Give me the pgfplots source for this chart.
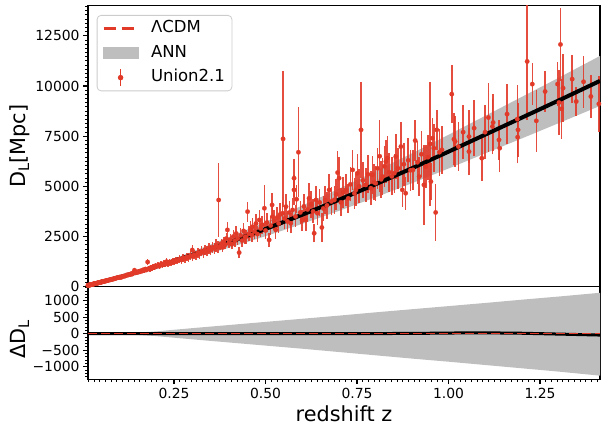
\documentclass[border=0pt]{standalone}
\usepackage{pgfplots}
\pgfplotsset{compat=1.18}
\usepackage{pgfplotstable}
\usepgfplotslibrary{fillbetween}
\usepackage{fontspec}
\setmainfont{DejaVu Sans}
\definecolor{ured}{RGB}{226,58,41}
\definecolor{bandgray}{RGB}{190,190,190}

\pgfplotstableread{
z D e
0.0150 68 6
0.0152 63 6
0.0155 70 7
0.0160 71 6
0.0163 67 7
0.0170 76 7
0.0175 74 8
0.0180 81 7
0.0185 78 8
0.0190 86 8
0.0196 84 8
0.0200 92 9
0.0210 90 8
0.0215 98 9
0.0220 95 9
0.0230 104 10
0.0235 99 11
0.0240 109 11
0.0250 113 11
0.0255 107 12
0.0260 118 11
0.0270 121 12
0.0280 127 12
0.0285 120 13
0.0290 131 12
0.0300 136 13
0.0310 137 13
0.0320 146 14
0.0330 143 14
0.0340 156 16
0.0350 152 16
0.0360 164 16
0.0370 170 17
0.0380 168 17
0.0390 179 18
0.0400 182 18
0.0410 176 18
0.0420 191 19
0.0430 195 19
0.0440 188 19
0.0450 207 21
0.0460 210 21
0.0470 202 22
0.0480 221 22
0.0490 218 22
0.0500 229 23
0.0510 226 23
0.0520 242 24
0.0530 237 24
0.0540 251 25
0.0550 246 25
0.0560 260 26
0.0570 256 26
0.0580 268 27
0.0590 262 28
0.0600 279 28
0.0620 281 29
0.0640 299 30
0.0650 288 30
0.0670 312 31
0.0680 305 31
0.0700 327 33
0.0720 324 34
0.0740 345 35
0.0760 340 35
0.0780 365 36
0.0800 372 37
0.0820 366 38
0.0840 394 40
0.0860 388 40
0.0880 418 42
0.0900 410 42
0.0920 436 44
0.0950 442 45
0.0970 459 46
0.1000 471 47
0.102 480 60
0.105 455 57
0.108 510 63
0.112 530 68
0.115 520 66
0.118 548 69
0.121 590 75
0.124 575 72
0.127 612 78
0.130 598 77
0.133 650 83
0.136 628 81
0.139 700 90
0.142 820 105
0.145 690 90
0.148 745 96
0.151 712 93
0.154 760 99
0.157 742 98
0.160 800 105
0.163 780 102
0.166 845 111
0.169 815 108
0.172 880 117
0.175 835 111
0.178 1230 165
0.181 905 120
0.184 870 117
0.187 955 128
0.190 930 126
0.193 990 132
0.196 955 129
0.199 1040 140
0.202 1010 135
0.206 1065 144
0.210 1020 138
0.214 1110 150
0.218 1085 147
0.222 1150 156
0.226 1120 153
0.230 1250 172
0.234 1160 159
0.238 1220 168
0.242 1185 162
0.246 1270 175
0.250 1235 171
0.255 1320 183
0.260 1290 180
0.265 1375 192
0.270 1330 186
0.275 1440 202
0.280 1400 196
0.285 1480 208
0.290 1455 205
0.295 1560 222
0.300 1520 216
0.300 1830 260
0.305 1600 228
0.310 1570 225
0.315 1680 240
0.320 1640 237
0.325 1760 255
0.330 1700 246
0.335 1820 264
0.340 1760 255
0.345 1890 276
0.350 1830 267
0.355 1960 288
0.360 1900 279
0.365 2050 303
0.370 1980 294
0.372 4320 1830
0.375 2010 200
0.380 2150 230
0.383 1960 210
0.386 2250 250
0.390 2090 230
0.393 2400 280
0.396 2830 400
0.400 2180 250
0.404 2350 280
0.408 2120 260
0.412 2500 320
0.416 2280 290
0.420 2650 360
0.424 2400 310
0.428 1700 260
0.432 2560 340
0.436 2300 300
0.440 2780 380
0.444 2470 330
0.447 2494 350
0.451 3740 500
0.455 2640 360
0.459 2850 400
0.463 2580 360
0.465 2990 430
0.470 2750 390
0.474 3150 460
0.478 2620 380
0.483 3326 480
0.487 2900 420
0.491 3080 450
0.497 3910 1150
0.500 2800 410
0.504 3200 480
0.510 2330 350
0.514 3050 460
0.518 4075 600
0.519 3490 520
0.523 3300 500
0.528 2830 430
0.532 3450 530
0.536 3150 480
0.540 3600 560
0.547 3660 570
0.548 7366 3400
0.552 3400 530
0.556 3990 620
0.560 3250 500
0.565 3700 580
0.569 3160 500
0.574 3825 600
0.578 5406 950
0.578 4823 760
0.582 3500 550
0.585 4359 690
0.590 6700 2250
0.595 3700 590
0.600 3300 520
0.605 4000 640
0.610 3326 530
0.615 3850 620
0.619 4408 750
0.625 4100 660
0.630 3750 600
0.633 2663 450
0.638 4324 700
0.642 3660 590
0.648 4200 680
0.654 2950 700
0.658 3900 630
0.663 4324 700
0.668 4050 660
0.674 4823 790
0.680 4250 700
0.688 4324 710
0.693 4600 760
0.697 5686 1050
0.701 5406 1050
0.706 4200 700
0.712 4700 780
0.720 4823 800
0.726 4400 730
0.732 5100 850
0.738 5820 980
0.743 4650 780
0.747 4823 810
0.751 5655 950
0.756 5000 840
0.761 7815 2400
0.766 5300 900
0.774 5072 860
0.780 5600 950
0.788 4906 840
0.792 5571 950
0.797 5200 890
0.801 5157 880
0.806 5900 1010
0.812 6500 1800
0.816 5350 920
0.820 5486 940
0.825 6000 1030
0.829 6234 1070
0.833 6403 1100
0.838 5700 980
0.845 5500 950
0.852 5655 980
0.856 6484 1120
0.862 5900 1020
0.870 6982 1200
0.874 4823 850
0.878 6100 1060
0.883 4658 820
0.890 6300 1100
0.896 5800 1010
0.903 5820 1010
0.909 7281 1000
0.915 6200 1080
0.920 5486 960
0.926 6600 1150
0.933 5072 2000
0.938 5985 1050
0.944 6450 1130
0.950 7117 3100
0.952 5237 920
0.956 7400 1000
0.960 6900 1200
0.965 3700 1400
0.968 7815 1000
0.975 6700 1170
0.982 6817 1190
1.009 9595 1430
1.015 7350 1280
1.018 7232 1260
1.027 6982 1220
1.040 7700 1340
1.056 6732 1180
1.056 7481 1300
1.070 7900 1380
1.091 6403 1120
1.100 7700 1340
1.109 8428 1700
1.120 7980 1390
1.122 8179 1420
1.138 7316 1000
1.140 6902 1200
1.160 8600 1500
1.188 8348 1700
1.189 7450 1300
1.190 7815 1360
1.215 11222 2900
1.229 10094 1040
1.240 8264 1540
1.264 9725 1000
1.298 10094 1100
1.302 9177 1600
1.306 12069 1800
1.309 8862 1500
1.313 9895 1700
1.338 10343 1200
1.349 9227 700
1.369 10209 1300
1.389 9477 1050
1.411 9112 1400
}\union

\pgfplotstableread{
z D
0.015 66
0.03 133
0.05 226
0.075 345
0.1 468
0.15 722
0.2 995
0.25 1280
0.3 1576
0.35 1885
0.4 2205
0.45 2535
0.5 2875
0.55 3225
0.6 3583
0.65 3950
0.7 4324
0.75 4705
0.8 5093
0.85 5488
0.9 5888
0.95 6295
1.0 6707
1.05 7124
1.1 7546
1.15 7973
1.2 8404
1.25 8839
1.3 9279
1.35 9722
1.4 10169
1.414 10293
}\lcdm

\pgfplotstableread{
z m lo hi
0.015 66 61 71
0.05 226 214 238
0.1 468 448 488
0.15 722 687 757
0.2 995 925 1065
0.25 1282 1162 1402
0.3 1576 1406 1746
0.35 1887 1670 2104
0.4 2205 1940 2470
0.45 2537 2225 2849
0.5 2875 2515 3235
0.6 3583 3128 4038
0.7 4324 3774 4874
0.8 5098 4448 5748
0.9 5898 5153 6643
1.0 6727 5887 7567
1.1 7574 6639 8509
1.2 8419 7384 9454
1.3 9269 8139 10399
1.414 10253 9008 11498
}\anntop

\pgfplotstableread{
z d lo hi
0.015 0 -5 5
0.1 0 -20 20
0.15 0 -35 35
0.2 0 -70 70
0.3 0 -170 170
0.4 0 -265 265
0.5 0 -360 360
0.6 0 -455 455
0.7 0 -555 550
0.8 5 -655 650
0.9 10 -755 745
1.0 20 -850 840
1.05 28 -900 888
1.1 28 -950 935
1.2 15 -1050 1035
1.3 -10 -1150 1130
1.414 -40 -1275 1245
}\annbot

\begin{document}
\begin{tikzpicture}
\pgfplotsset{
  common/.style={
    scale only axis, width=512pt, xmin=0.015, xmax=1.414,
    axis line style={line width=1.1pt},
    tick align=outside, tick pos=left,
    major tick length=4.9pt, minor tick length=2.8pt,
    major tick style={black, line width=1.1pt},
    minor tick style={black, line width=0.8pt},
    tick label style={font=\fontsize{13.9}{16}\selectfont},
    /pgf/number format/assume math mode=true,
    scaled ticks=false,
    label style={font=\fontsize{20.8}{24}\selectfont},
  }
}
\begin{axis}[common, at={(88pt,139.3pt)}, anchor=south west, height=281pt,
  ymin=0, ymax=14000,
  ytick={0,2500,5000,7500,10000,12500},
  yticklabels={0,2500,5000,7500,10000,12500},
  minor ytick={0,208.333,...,14000},
  xtick=\empty,
  ylabel={D\textsubscript{L}[Mpc]},
  ylabel style={at={(axis description cs:-0.133,0.5)}, anchor=center},
  legend cell align=left,
  legend style={at={(axis description cs:0.017,0.967)}, anchor=north west,
    draw=black!20, line width=0.8pt, rounded corners=4pt, fill=white,
    font=\fontsize{16.5}{19.8}\selectfont,
    inner xsep=5pt, inner ysep=3.5pt, row sep=5pt,
    nodes={inner sep=2pt, text height=12pt, text depth=3.5pt},
    /tikz/every odd column/.append style={column sep=10pt}},
]
\addlegendimage{legend image code/.code={\draw[sharp corners, ured, line width=3pt, dash pattern=on 12pt off 6pt] (0pt,0pt) -- (31pt,0pt);}}
\addlegendentry{ΛCDM}
\addlegendimage{legend image code/.code={\fill[sharp corners, bandgray] (0pt,-5.5pt) rectangle (35pt,5.5pt);}}
\addlegendentry{ANN}
\addlegendimage{legend image code/.code={\draw[sharp corners, ured, line width=1.5pt] (17pt,-8.5pt) -- (17pt,8.5pt); \fill[ured] (17pt,0pt) circle (2.3pt); \path[draw=none] (0pt,0pt) -- (35pt,0pt);}}
\addlegendentry{Union2.1}

\addplot[name path=tup, draw=none, forget plot] table[x=z, y=hi] {\anntop};
\addplot[name path=tdn, draw=none, forget plot] table[x=z, y=lo] {\anntop};
\addplot[bandgray, forget plot] fill between[of=tup and tdn];
\addplot[forget plot, ured, line width=2pt, dash pattern=on 9pt off 4pt] table[x=z, y=D] {\lcdm};
\addplot[forget plot, ured, draw opacity=0.9, line width=1.5pt, solid, -,
  quiver={u=0, v=2*\thisrow{e}}]
  table[x=z, y expr=\thisrow{D}-\thisrow{e}] {\union};
\addplot[forget plot, black, solid, line width=4pt] table[x=z, y=m] {\anntop};
\addplot[forget plot, only marks, mark=*, mark size=2.3pt, color=ured, line width=0.1pt]
  table[x=z, y=D] {\union};
\end{axis}

\begin{axis}[common, at={(88pt,46.7pt)}, anchor=south west, height=92.6pt,
  ymin=-1385, ymax=1430,
  ytick={-1000,-500,0,500,1000},
  yticklabels={−1000,−500,0,500,1000},
  minor ytick={-1300,-1200,...,1400},
  xtick={0.25,0.5,0.75,1,1.25},
  xticklabels={0.25,0.50,0.75,1.00,1.25},
  minor xtick={0,0.015625,...,1.42},
  xlabel={redshift z},
  xlabel style={at={(axis description cs:0.5,-0.376)}, anchor=center},
  ylabel={ΔD\textsubscript{L}},
  ylabel style={at={(axis description cs:-0.133,0.43)}, anchor=center},
]
\addplot[name path=bup, draw=none] table[x=z, y=hi] {\annbot};
\addplot[name path=bdn, draw=none] table[x=z, y=lo] {\annbot};
\addplot[bandgray] fill between[of=bup and bdn];
\addplot[black, line width=3pt] table[x=z, y=d] {\annbot};
\addplot[ured, line width=1.2pt, dash pattern=on 9pt off 4pt] coordinates {(0.015,0) (1.414,0)};
\end{axis}
\pgfresetboundingbox
\useasboundingbox (0,0) rectangle (602pt,426pt);
\end{tikzpicture}
\end{document}
